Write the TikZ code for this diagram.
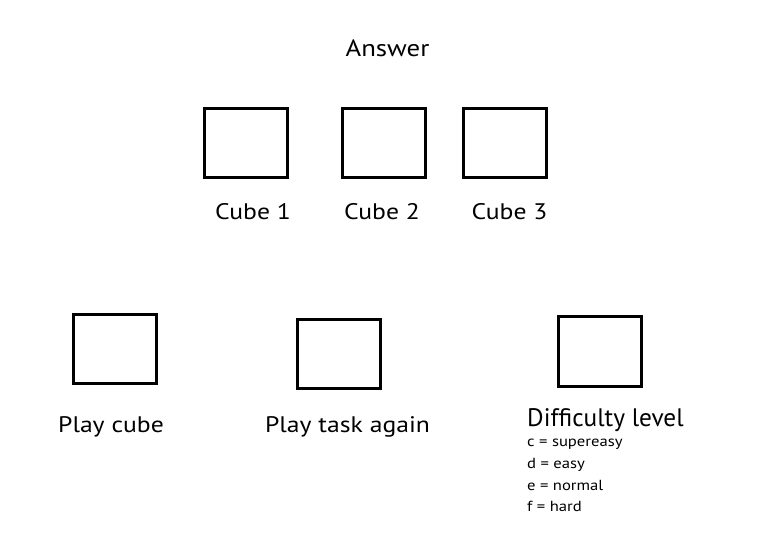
\documentclass[tikz,border=0pt]{standalone}
\usepackage{fontspec}
\setmainfont[FakeStretch=1.14]{PT Sans}
\newfontfamily\ptplain{PT Sans}
\begin{document}
\begin{tikzpicture}[x=1pt,y=-1pt,
  cubebox/.style={draw=black,line width=3pt,minimum width=83pt,minimum height=69pt,inner sep=0pt},
  lbl/.style={inner sep=0pt,font=\fontsize{22.5}{26}\selectfont},
  small/.style={inner sep=0pt,anchor=west,font=\fontsize{14.6}{17}\selectfont}]
\useasboundingbox (0,0) rectangle (777,547);
\node[lbl,font=\fontsize{23.5}{27}\selectfont] (answer) at (387.5,48) {Answer};
\node[cubebox] (c1) at (246,143) {};
\node[cubebox] (c2) at (383.5,143) {};
\node[cubebox] (c3) at (504.5,143) {};
\node[lbl] (l1) at (253,212) {Cube 1};
\node[lbl] (l2) at (382,212) {Cube 2};
\node[lbl] (l3) at (509.5,212) {Cube 3};
\node[cubebox] (b1) at (114.5,349) {};
\node[cubebox] (b2) at (339,354) {};
\node[cubebox,minimum height=70pt] (b3) at (600,351.5) {};
\node[lbl] (p1) at (111,427) {Play cube};
\node[lbl] (p2) at (347.5,427) {Play task again};
\node[lbl,anchor=west,font=\ptplain\fontsize{25.3}{29}\selectfont] (dl) at (527,420) {Difficulty level};
\node[small] (s1) at (527,444) {c = supereasy};
\node[small] (s2) at (527,465) {d = easy};
\node[small] (s3) at (527,485) {e = normal};
\node[small] (s4) at (527,506) {f = hard};
\end{tikzpicture}
\end{document}
